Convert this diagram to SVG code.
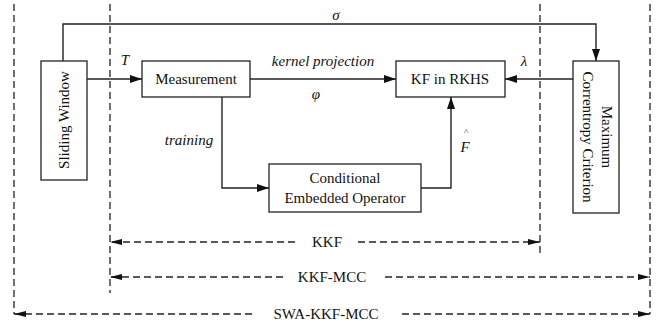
<svg xmlns="http://www.w3.org/2000/svg" width="657" height="326" viewBox="0 0 657 326">
<style>
  .box{fill:#fff;stroke:#222;stroke-width:1.3}
  .ln{fill:none;stroke:#222;stroke-width:1.4}
  .dl{fill:none;stroke:#222;stroke-width:1.3;stroke-dasharray:7,4}
  .t{font-family:"Liberation Serif","Times New Roman",serif;font-size:15px;fill:#111;text-anchor:middle}
  .i{font-style:italic}
</style>
<defs>
  <marker id="ah" markerUnits="userSpaceOnUse" markerWidth="13" markerHeight="9" refX="12" refY="4" orient="auto">
    <path d="M0,0 L12,4 L0,8 z" fill="#111"/>
  </marker>
  <marker id="dh" markerUnits="userSpaceOnUse" markerWidth="13" markerHeight="7" refX="12" refY="3" orient="auto">
    <path d="M0,0 L12,3 L0,6 z" fill="#111"/>
  </marker>
</defs>
<rect width="657" height="326" fill="#fff"/>

<g id="boundaries">
  <line class="dl" x1="14" y1="4" x2="14" y2="314"/>
  <line class="dl" x1="110" y1="4" x2="110" y2="293"/>
  <line class="dl" x1="540" y1="4" x2="540" y2="257"/>
  <line class="dl" x1="650" y1="4" x2="650" y2="314"/>
</g>

<g id="connectors">
  <path class="ln" d="M63,61 V24 H596 V61" marker-end="url(#ah)"/>
  <line class="ln" x1="87" y1="79" x2="142" y2="79" marker-end="url(#ah)"/>
  <line class="ln" x1="250" y1="79" x2="396" y2="79" marker-end="url(#ah)"/>
  <line class="ln" x1="573" y1="79" x2="505" y2="79" marker-end="url(#ah)"/>
  <path class="ln" d="M222,97 V188 H269" marker-end="url(#ah)"/>
  <path class="ln" d="M421,188 H451 V97" marker-end="url(#ah)"/>
</g>

<g id="labels">
  <text class="t i" x="125" y="65">T</text>
  <text class="t i" x="336" y="20">σ</text>
  <text class="t i" x="323" y="66">kernel projection</text>
  <text class="t i" x="316" y="99">φ</text>
  <text class="t i" x="524" y="66">λ</text>
  <text class="t i" x="189" y="145">training</text>
  <text class="t i" x="465" y="152">F</text>
  <text class="t" x="466" y="135" style="font-size:9px">^</text>
</g>

<g id="sliding-window">
  <rect class="box" x="41" y="61" width="46" height="119"/>
  <text class="t" transform="translate(63,120) rotate(-90)" x="0" y="6">Sliding Window</text>
</g>

<g id="measurement">
  <rect class="box" x="142" y="61" width="108" height="36"/>
  <text class="t" x="196" y="84">Measurement</text>
</g>

<g id="kf-rkhs">
  <rect class="box" x="396" y="61" width="109" height="36"/>
  <text class="t" x="450" y="84">KF in RKHS</text>
</g>

<g id="mcc">
  <rect class="box" x="573" y="61" width="46" height="152"/>
  <text class="t" transform="translate(596,137) rotate(90)" x="0" y="-6">Maximum</text>
  <text class="t" transform="translate(596,137) rotate(90)" x="0" y="13">Correntropy Criterion</text>
</g>

<g id="ceo">
  <rect class="box" x="269" y="164" width="152" height="48"/>
  <text class="t" x="345" y="183">Conditional</text>
  <text class="t" x="345" y="203">Embedded Operator</text>
</g>

<g id="scopes">
  <line class="dl" x1="295" y1="242" x2="110" y2="242" marker-end="url(#dh)"/>
  <line class="dl" x1="358" y1="242" x2="540" y2="242" marker-end="url(#dh)"/>
  <text class="t" x="327" y="247">KKF</text>
  <line class="dl" x1="283" y1="277" x2="110" y2="277" marker-end="url(#dh)"/>
  <line class="dl" x1="385" y1="277" x2="650" y2="277" marker-end="url(#dh)"/>
  <text class="t" x="332" y="282">KKF-MCC</text>
  <line class="dl" x1="252" y1="314" x2="14" y2="314" marker-end="url(#dh)"/>
  <line class="dl" x1="402" y1="314" x2="650" y2="314" marker-end="url(#dh)"/>
  <text class="t" x="326" y="319">SWA-KKF-MCC</text>
</g>
</svg>
